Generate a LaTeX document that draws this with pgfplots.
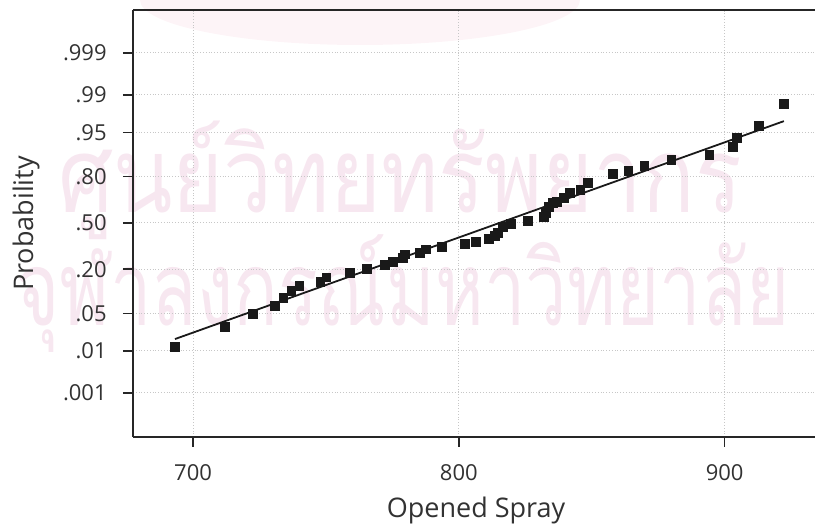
\documentclass[border=0pt]{standalone}
\usepackage{pgfplots}
\pgfplotsset{compat=1.18}
\usepackage{fontspec}
\setmainfont{Open Sans}
\newfontfamily\thaifont[Script=Thai]{Loma}
\usetikzlibrary{calc}
\definecolor{wm}{RGB}{247,231,240}
\definecolor{wmlight}{RGB}{253,244,247}
\definecolor{txt}{RGB}{50,50,50}
\begin{document}
\begin{tikzpicture}
\begin{scope}[x=0.5pt,y=0.5pt]
\fill[wmlight] (227,437) ellipse [x radius=220, y radius=45];
\node[text=wm, font=\thaifont\fontsize{43.5}{48}\selectfont, yscale=1.2] at (267,257) {ศูนย์วิทยทรัพยากร};
\node[text=wm, font=\thaifont\fontsize{37}{42}\selectfont, yscale=1.4] at (270,143) {จุฬาลงกรณ์มหาวิทยาลัย};
\end{scope}
\begin{axis}[
  at={(0,0)}, anchor=south west,
  scale only axis, width=341pt, height=213.5pt,
  xmin=677.4, xmax=934, ymin=-3.89, ymax=3.87,
  axis lines*=left,
  axis line style={-, draw=black!85, line width=0.9pt},
  xtick={700,800,900}, xticklabels={700,800,900},
  ytick={-3.090,-2.326,-1.645,-0.8416,0,0.8416,1.645,2.326,3.090},
  yticklabels={.001,.01,.05,.20,.50,.80,.95,.99,.999},
  tick align=outside, major tick length=5pt,
  tick style={draw=black!85, line width=0.8pt},
  grid=major, grid style={densely dotted, black!22, line width=0.5pt},
  ticklabel style={font=\fontsize{11}{13}\selectfont, text=txt, inner sep=0pt},
  xticklabel shift=8.5pt, yticklabel shift=8pt,
  label style={font=\fontsize{13.5}{16}\selectfont, text=txt},
  xlabel={Opened Spray}, ylabel={Probability},
  xlabel style={at={(axis description cs:0.503,-0.1874)}, anchor=base, inner sep=0pt},
  ylabel style={at={(axis description cs:-0.1466,0.5)}, anchor=base, inner sep=0pt},
]
\addplot[only marks, mark=square*, mark size=2.2pt, draw=black!90, fill=black!90] coordinates {
(693.2,-2.25) (712.1,-1.89) (722.6,-1.65) (730.9,-1.51) (734.0,-1.36)
(737.0,-1.24) (740.0,-1.15) (747.9,-1.07) (750.2,-0.99) (758.9,-0.91)
(765.3,-0.84) (772.1,-0.76) (775.1,-0.71) (778.9,-0.64) (779.6,-0.57)
(785.3,-0.54) (787.5,-0.48) (793.6,-0.43) (802.3,-0.38) (806.4,-0.34)
(811.3,-0.29) (813.6,-0.24) (814.7,-0.18) (816.6,-0.07) (819.6,-0.02)
(826.0,0.04) (832.1,0.11) (832.8,0.18) (834.0,0.29) (835.5,0.36)
(837.0,0.38) (839.6,0.45) (841.9,0.55) (845.7,0.60) (848.7,0.73)
(858.1,0.89) (863.8,0.95) (869.8,1.04) (880.0,1.15) (894.3,1.24)
(903.0,1.38) (904.5,1.55) (912.8,1.76) (922.3,2.16)
};
\addplot[black!90, line width=0.9pt] coordinates {(693.2,-2.11) (922.3,1.85)};
\draw[black!85, line width=0.9pt] (rel axis cs:0,1) -- (rel axis cs:1,1);
\coordinate (SW) at (rel axis cs:0,0);
\coordinate (NE) at (rel axis cs:1,1);
\end{axis}
\pgfresetboundingbox
\path ($(SW)+(-66.5pt,-43.5pt)$) rectangle ($(NE)+(0,5pt)$);
\end{tikzpicture}
\end{document}
